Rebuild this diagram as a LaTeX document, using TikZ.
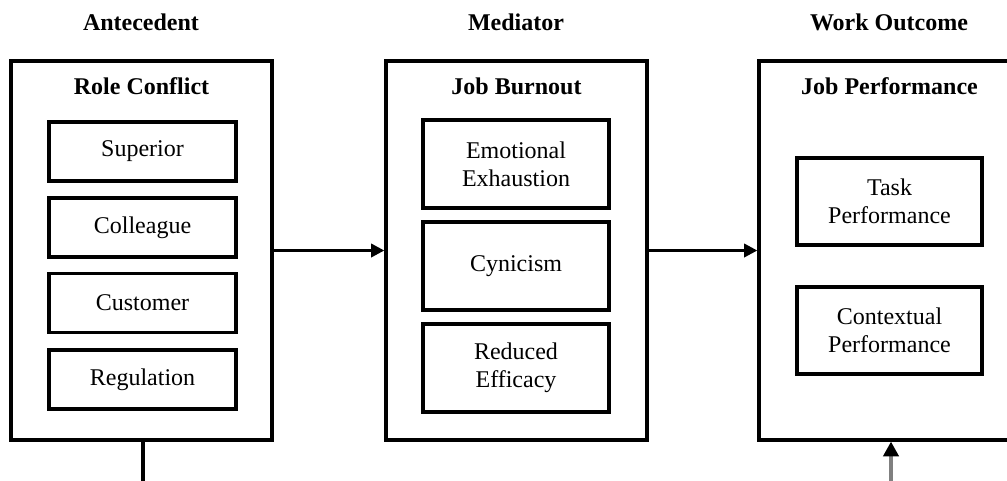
\documentclass[tikz,border=0pt]{standalone}
\usepackage{fontspec}
\setmainfont{Liberation Serif}
\usetikzlibrary{arrows.meta}
\begin{document}
\begin{tikzpicture}[x=0.75pt,y=-0.75pt,
  outerbox/.style={draw,line width=2.5pt,minimum width=195.75pt,minimum height=284.25pt,inner sep=0pt},
  innerbox/.style={draw,line width=2.5pt,inner sep=0pt,align=center,font=\fontsize{18}{21}\selectfont},
  head/.style={font=\fontsize{18}{21}\selectfont\bfseries,inner sep=0pt},
  conn/.style={line width=2.3pt},
  arr/.style={conn,-{Triangle[length=10pt,width=10pt]}}
]
\useasboundingbox (0,0) rectangle (1007,480);
\clip (0,0) rectangle (1007,480);
% headers
\node[head] (h1) at (141,22) {Antecedent};
\node[head] (h2) at (516,22) {Mediator};
\node[head] (h3) at (889,22) {Work Outcome};
% outer boxes
\node[outerbox] (b1) at (141.5,250.5) {};
\node[outerbox] (b2) at (516.5,250.5) {};
\node[outerbox] (b3) at (889.5,250.5) {};
% titles
\node[head] (t1) at (141.5,86) {Role Conflict};
\node[head] (t2) at (516.5,86) {Job Burnout};
\node[head] (t3) at (889.5,86) {Job Performance};
% inner boxes 1
\node[innerbox,minimum width=140.25pt,minimum height=44.25pt] (s1) at (142.5,151.5) {Superior};
\node[innerbox,minimum width=140.25pt,minimum height=44.25pt] (s2) at (142.5,227.5) {Colleague};
\node[innerbox,minimum width=140.25pt,minimum height=44.25pt] (s3) at (142.5,303) {Customer};
\node[innerbox,minimum width=140.25pt,minimum height=44.25pt] (s4) at (142.5,379.5) {Regulation};
% inner boxes 2
\node[innerbox,minimum width=139.5pt,minimum height=66pt] (m1) at (516,164) {Emotional\\Exhaustion};
\node[innerbox,minimum width=139.5pt,minimum height=66pt] (m2) at (516,266) {Cynicism};
\node[innerbox,minimum width=139.5pt,minimum height=66pt] (m3) at (516,368) {Reduced\\Efficacy};
% inner boxes 3
\node[innerbox,minimum width=138.75pt,minimum height=65.25pt] (o1) at (889.5,201.5) {Task\\Performance};
\node[innerbox,minimum width=138.75pt,minimum height=65.25pt] (o2) at (889.5,330.5) {Contextual\\Performance};
% connectors
\coordinate (l1) at (143,482);
\coordinate (l3) at (891,482);
\draw[arr] (b1.east) -- (b2.west);
\draw[arr] (b2.east) -- (b3.west);
\draw[conn] (b1.south -| l1) -- (l1);
\draw[conn,draw=black!50,-{Triangle[length=11pt,width=11.5pt,color=black]}] (l3) -- (b3.south -| l3);
\end{tikzpicture}
\end{document}
